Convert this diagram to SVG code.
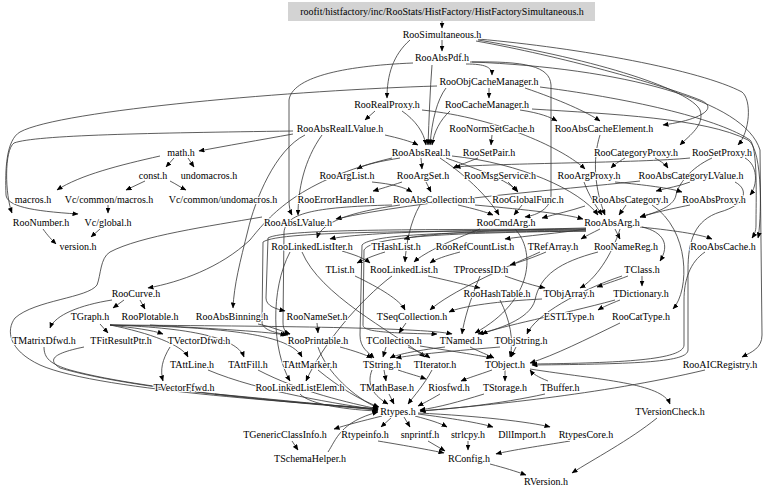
<svg xmlns="http://www.w3.org/2000/svg" width="768" height="494" viewBox="0 0 768 494">
<defs>
<marker id="a" markerWidth="6" markerHeight="5" refX="5.5" refY="2.5" orient="auto" markerUnits="userSpaceOnUse"><path d="M0,0L6,2.5L0,5z" fill="#000"/></marker>
<style>
text{font-family:"Liberation Serif","Times New Roman",serif;font-size:10px;text-anchor:middle;fill:#000;stroke:#fff;stroke-width:2.2;paint-order:stroke;stroke-linejoin:round}
#n_header text{stroke:none}
#edges path{fill:none;stroke:#333;stroke-width:0.8;marker-end:url(#a)}
</style>
</defs>
<rect width="768" height="494" fill="#fff"/>
<g id="edges">
<path d="M442,21 L442,28"/>
<path d="M442,40 L442,51"/>
<path d="M410,40 C393,55 387,75 387,98"/>
<path d="M478,39 C580,48 700,70 742,92 C752,100 750,132 738,145"/>
<path d="M476,41 C560,56 660,84 700,100 C720,108 700,120 663,125"/>
<path d="M478,40 C600,60 690,90 700,110 C705,125 690,135 680,145"/>
<path d="M472,62 C620,68 745,100 760,150 L762,335 C762,348 752,352 742,357"/>
<path d="M466,64 C485,64 492,67 492,75"/>
<path d="M432,65 C430,90 429,120 428,145"/>
<path d="M413,63 C340,66 292,78 289,100 L289,200 C289,207 290,211 292,215"/>
<path d="M470,62 C525,61 550,66 551,85 L551,195 C551,208 538,215 525,217"/>
<path d="M489,88 L489,98"/>
<path d="M525,88 C560,100 587,112 600,121"/>
<path d="M437,86 C300,90 60,110 20,132 C6,140 5,170 6,195 C7,206 30,211 78,214"/>
<path d="M446,88 C437,100 432,120 430,145"/>
<path d="M540,87 C640,100 720,120 750,140 C758,148 756,200 756,225 C756,232 754,235 752,238"/>
<path d="M520,110 C540,113 550,117 557,121"/>
<path d="M450,111 C440,120 434,132 432,145"/>
<path d="M532,109 C610,114 705,118 748,140 C764,150 761,225 758,238"/>
<path d="M492,135 L491,145"/>
<path d="M375,111 L365,120"/>
<path d="M402,111 C415,120 424,132 426,145"/>
<path d="M422,110 C500,118 565,150 585,169"/>
<path d="M293,134 C260,140 225,146 199,151"/>
<path d="M293,131 C150,133 35,135 14,143 C4,150 5,195 12,213"/>
<path d="M385,135 C398,138 410,141 418,145"/>
<path d="M322,135 C304,160 298,190 298,215"/>
<path d="M305,135 C275,150 255,200 248,230 C240,262 234,285 233,308"/>
<path d="M400,158 C382,161 366,164 357,169"/>
<path d="M600,135 C592,160 595,190 605,215"/>
<path d="M421,158 L422,169"/>
<path d="M446,158 C480,170 508,180 518,192"/>
<path d="M440,158 C470,178 490,200 499,215"/>
<path d="M452,156 C520,163 580,190 598,215"/>
<path d="M392,158 C300,180 270,215 250,240 C220,268 180,282 148,288"/>
<path d="M478,158 C468,162 460,165 453,168"/>
<path d="M625,158 C618,162 614,165 611,168"/>
<path d="M655,158 C662,162 666,165 668,168"/>
<path d="M690,158 C640,163 500,163 455,167"/>
<path d="M745,158 C758,165 758,185 750,195"/>
<path d="M712,158 C690,168 678,185 676,195 C674,208 650,214 640,217"/>
<path d="M426,182 L431,192"/>
<path d="M402,182 C390,186 380,189 373,191"/>
<path d="M372,182 C392,184 404,187 412,192"/>
<path d="M508,182 L517,191"/>
<path d="M615,182 C645,185 670,188 682,192"/>
<path d="M584,182 C589,196 596,206 602,215"/>
<path d="M690,182 C680,186 667,188 656,191"/>
<path d="M640,181 C560,190 420,200 336,219"/>
<path d="M626,205 L619,215"/>
<path d="M652,205 C690,230 690,290 673,309"/>
<path d="M690,205 C665,210 650,214 640,217"/>
<path d="M475,205 C530,210 565,214 583,219"/>
<path d="M458,205 C475,209 486,212 493,215"/>
<path d="M420,205 C410,222 406,245 405,262"/>
<path d="M400,205 C350,212 322,222 317,238"/>
<path d="M392,205 C310,207 286,214 284,232 L283,322 C283,330 286,333 290,334"/>
<path d="M522,205 L514,215"/>
<path d="M515,229 C535,250 535,300 475,333"/>
<path d="M480,229 C452,240 425,252 414,262"/>
<path d="M585,206 C570,211 556,214 542,218"/>
<path d="M586,229 C560,233 525,236 505,239"/>
<path d="M600,229 C592,233 586,236 581,239"/>
<path d="M615,229 L620,239"/>
<path d="M640,227 C680,231 702,235 712,239"/>
<path d="M586,228 C500,230 425,233 404,239"/>
<path d="M586,229 C470,230 360,232 330,239"/>
<path d="M586,229 C440,230 285,228 268,238 L266,298 C266,306 276,309 285,311"/>
<path d="M586,230 C440,232 280,230 263,242 L262,322 C262,330 276,333 288,335"/>
<path d="M586,231 C450,232 372,234 362,245 L360,335 C360,348 368,352 374,358"/>
<path d="M586,231 C450,233 372,236 364,250 L363,325 C363,331 380,333 437,334"/>
<path d="M620,229 C612,255 595,280 580,288"/>
<path d="M642,227 C664,232 670,245 660,261"/>
<path d="M598,252 C560,262 540,275 535,300 C530,320 495,330 478,334"/>
<path d="M705,252 C690,262 684,280 684,300 L684,345 C684,360 620,363 532,364"/>
<path d="M735,182 C750,190 745,205 720,212 C695,220 688,240 688,270 L688,350 C688,362 640,364 532,365"/>
<path d="M642,276 L642,286"/>
<path d="M628,276 C615,281 605,284 597,287"/>
<path d="M622,276 C580,290 535,315 527,334"/>
<path d="M615,300 C560,315 500,326 482,334"/>
<path d="M620,300 C610,304 603,307 598,310"/>
<path d="M620,323 C585,340 555,355 530,363"/>
<path d="M542,299 C500,301 462,306 449,312"/>
<path d="M540,252 C500,270 450,292 430,310"/>
<path d="M546,252 C532,258 520,262 510,265"/>
<path d="M385,252 C372,256 363,260 357,263"/>
<path d="M355,276 C380,288 400,300 405,310"/>
<path d="M342,251 C355,255 364,258 370,263"/>
<path d="M302,252 C320,295 390,330 425,357"/>
<path d="M290,252 C270,290 272,350 290,381"/>
<path d="M392,276 C360,300 322,345 306,381"/>
<path d="M428,276 C455,282 470,286 480,288"/>
<path d="M460,252 C445,256 436,259 430,263"/>
<path d="M505,276 C522,282 535,286 545,288"/>
<path d="M480,276 C470,300 464,320 462,334"/>
<path d="M500,300 C510,320 514,340 510,357"/>
<path d="M124,300 L113,308"/>
<path d="M140,300 L145,309"/>
<path d="M112,300 C80,305 55,315 50,328"/>
<path d="M100,324 L108,333"/>
<path d="M110,325 C135,328 152,330 163,334"/>
<path d="M110,325 C150,333 182,345 188,357"/>
<path d="M110,325 C200,328 238,340 244,357"/>
<path d="M110,325 C230,327 290,335 302,357"/>
<path d="M110,325 C250,326 420,327 452,334"/>
<path d="M150,325 C200,328 262,331 286,335"/>
<path d="M258,324 C272,327 282,331 290,334"/>
<path d="M317,323 L318,333"/>
<path d="M170,347 C162,360 160,370 163,381"/>
<path d="M406,323 L399,333"/>
<path d="M420,346 C458,352 482,356 492,358"/>
<path d="M386,347 L383,357"/>
<path d="M408,347 C418,351 426,355 430,358"/>
<path d="M470,347 C480,352 488,355 494,358"/>
<path d="M445,347 C412,351 396,355 390,358"/>
<path d="M516,347 L511,357"/>
<path d="M500,347 C440,352 412,355 396,358"/>
<path d="M340,347 C355,351 366,355 372,358"/>
<path d="M318,347 C326,372 355,398 378,408"/>
<path d="M208,370 C260,392 340,404 378,410"/>
<path d="M258,370 C300,392 350,403 378,409"/>
<path d="M318,370 C340,388 360,400 379,407"/>
<path d="M215,394 C280,400 340,406 378,410"/>
<path d="M300,394 C310,405 350,410 378,411"/>
<path d="M384,370 L386,381"/>
<path d="M398,370 C410,374 418,376 426,379"/>
<path d="M372,370 C366,385 374,396 388,404"/>
<path d="M432,370 C424,385 414,396 408,404"/>
<path d="M492,370 C478,375 468,378 461,381"/>
<path d="M505,370 L505,381"/>
<path d="M530,369 C600,380 662,383 670,404"/>
<path d="M389,394 L394,404"/>
<path d="M484,394 C458,402 440,407 420,410"/>
<path d="M440,394 C430,400 422,404 418,406"/>
<path d="M548,381 C538,377 533,374 530,370"/>
<path d="M545,394 C500,404 450,409 420,411"/>
<path d="M705,370 C600,395 480,406 420,411"/>
<path d="M657,418 C630,440 592,460 572,473"/>
<path d="M382,416 C362,421 346,425 334,429"/>
<path d="M392,417 L381,427"/>
<path d="M404,417 L410,427"/>
<path d="M415,416 C430,420 440,423 447,427"/>
<path d="M418,414 C450,418 480,423 493,427"/>
<path d="M418,413 C480,416 530,422 550,427"/>
<path d="M292,441 L298,450"/>
<path d="M328,452 C336,440 340,422 378,412"/>
<path d="M378,441 C408,446 430,450 444,453"/>
<path d="M428,441 L445,451"/>
<path d="M468,441 L468,450"/>
<path d="M570,441 C540,446 512,450 496,454"/>
<path d="M490,464 C505,468 515,471 526,475"/>
<path d="M174,158 L166,167"/>
<path d="M188,158 L194,167"/>
<path d="M160,156 C120,165 80,175 57,190"/>
<path d="M145,181 L126,190"/>
<path d="M170,181 C176,184 180,187 186,190"/>
<path d="M108,205 L108,213"/>
<path d="M100,229 L91,237"/>
<path d="M43,229 C48,236 52,240 56,244"/>
<path d="M262,217 C210,226 140,236 110,252 C100,258 101,275 97,285 C88,298 35,300 15,318 C6,330 8,350 40,365 C100,392 330,404 378,409"/>
<path d="M44,347 C44,358 50,364 70,370 C150,392 330,405 378,409"/>
<path d="M84,347 C60,352 44,358 60,368 C140,392 330,405 378,410"/>
</g>
<g id="n_header"><rect x="288" y="2" width="307" height="19" fill="#d3d3d3"/><text x="442" y="14.5">roofit/histfactory/inc/RooStats/HistFactory/HistFactorySimultaneous.h</text></g>
<g id="n_RooSimultaneous"><text x="442" y="37.8">RooSimultaneous.h</text></g>
<g id="n_RooAbsPdf"><text x="442" y="61.3">RooAbsPdf.h</text></g>
<g id="n_RooObjCacheManager"><text x="489" y="84.9">RooObjCacheManager.h</text></g>
<g id="n_RooRealProxy"><text x="387" y="108.4">RooRealProxy.h</text></g>
<g id="n_RooCacheManager"><text x="487" y="108.4">RooCacheManager.h</text></g>
<g id="n_RooAbsRealLValue"><text x="340" y="132">RooAbsRealLValue.h</text></g>
<g id="n_RooNormSetCache"><text x="492" y="132">RooNormSetCache.h</text></g>
<g id="n_RooAbsCacheElement"><text x="604" y="132">RooAbsCacheElement.h</text></g>
<g id="n_math"><text x="181" y="155.5">math.h</text></g>
<g id="n_RooAbsReal"><text x="421" y="155.5">RooAbsReal.h</text></g>
<g id="n_RooSetPair"><text x="489" y="155.5">RooSetPair.h</text></g>
<g id="n_RooCategoryProxy"><text x="636" y="155.5">RooCategoryProxy.h</text></g>
<g id="n_RooSetProxy"><text x="722" y="155.5">RooSetProxy.h</text></g>
<g id="n_const"><text x="153" y="179">const.h</text></g>
<g id="n_undomacros"><text x="209" y="179">undomacros.h</text></g>
<g id="n_RooArgList"><text x="347" y="179">RooArgList.h</text></g>
<g id="n_RooArgSet"><text x="423" y="179">RooArgSet.h</text></g>
<g id="n_RooMsgService"><text x="500" y="179">RooMsgService.h</text></g>
<g id="n_RooArgProxy"><text x="589" y="179">RooArgProxy.h</text></g>
<g id="n_RooAbsCategoryLValue"><text x="691" y="179">RooAbsCategoryLValue.h</text></g>
<g id="n_macros"><text x="33" y="202.6">macros.h</text></g>
<g id="n_VcCommonMacros"><text x="109" y="202.6">Vc/common/macros.h</text></g>
<g id="n_VcCommonUndomacros"><text x="223" y="202.6">Vc/common/undomacros.h</text></g>
<g id="n_RooErrorHandler"><text x="336" y="202.6">RooErrorHandler.h</text></g>
<g id="n_RooAbsCollection"><text x="434" y="202.6">RooAbsCollection.h</text></g>
<g id="n_RooGlobalFunc"><text x="528" y="202.6">RooGlobalFunc.h</text></g>
<g id="n_RooAbsCategory"><text x="630" y="202.6">RooAbsCategory.h</text></g>
<g id="n_RooAbsProxy"><text x="714" y="202.6">RooAbsProxy.h</text></g>
<g id="n_RooNumber"><text x="41" y="226.2">RooNumber.h</text></g>
<g id="n_VcGlobal"><text x="108" y="226.2">Vc/global.h</text></g>
<g id="n_RooAbsLValue"><text x="298" y="226.2">RooAbsLValue.h</text></g>
<g id="n_RooCmdArg"><text x="506" y="226.2">RooCmdArg.h</text></g>
<g id="n_RooAbsArg"><text x="612" y="226.2">RooAbsArg.h</text></g>
<g id="n_version"><text x="78" y="249.7">version.h</text></g>
<g id="n_RooLinkedListIter"><text x="312" y="249.7">RooLinkedListIter.h</text></g>
<g id="n_THashList"><text x="396" y="249.7">THashList.h</text></g>
<g id="n_RooRefCountList"><text x="475" y="249.7">RooRefCountList.h</text></g>
<g id="n_TRefArray"><text x="553" y="249.7">TRefArray.h</text></g>
<g id="n_RooNameReg"><text x="626" y="249.7">RooNameReg.h</text></g>
<g id="n_RooAbsCache"><text x="723" y="249.7">RooAbsCache.h</text></g>
<g id="n_TList"><text x="340" y="273.3">TList.h</text></g>
<g id="n_RooLinkedList"><text x="404" y="273.3">RooLinkedList.h</text></g>
<g id="n_TProcessID"><text x="481" y="273.3">TProcessID.h</text></g>
<g id="n_TClass"><text x="642" y="273.3">TClass.h</text></g>
<g id="n_RooCurve"><text x="136" y="296.8">RooCurve.h</text></g>
<g id="n_RooHashTable"><text x="497" y="296.8">RooHashTable.h</text></g>
<g id="n_TObjArray"><text x="569" y="296.8">TObjArray.h</text></g>
<g id="n_TDictionary"><text x="641" y="296.8">TDictionary.h</text></g>
<g id="n_TGraph"><text x="90" y="320.4">TGraph.h</text></g>
<g id="n_RooPlotable"><text x="150" y="320.4">RooPlotable.h</text></g>
<g id="n_RooAbsBinning"><text x="232" y="320.4">RooAbsBinning.h</text></g>
<g id="n_RooNameSet"><text x="317" y="320.4">RooNameSet.h</text></g>
<g id="n_TSeqCollection"><text x="412" y="320.4">TSeqCollection.h</text></g>
<g id="n_ESTLType"><text x="569" y="320.4">ESTLType.h</text></g>
<g id="n_RooCatType"><text x="641" y="320.4">RooCatType.h</text></g>
<g id="n_TMatrixDfwd"><text x="44" y="343.9">TMatrixDfwd.h</text></g>
<g id="n_TFitResultPtr"><text x="121" y="343.9">TFitResultPtr.h</text></g>
<g id="n_TVectorDfwd"><text x="199" y="343.9">TVectorDfwd.h</text></g>
<g id="n_RooPrintable"><text x="318" y="343.9">RooPrintable.h</text></g>
<g id="n_TCollection"><text x="394" y="343.9">TCollection.h</text></g>
<g id="n_TNamed"><text x="461" y="343.9">TNamed.h</text></g>
<g id="n_TObjString"><text x="521" y="343.9">TObjString.h</text></g>
<g id="n_TAttLine"><text x="192" y="367.5">TAttLine.h</text></g>
<g id="n_TAttFill"><text x="248" y="367.5">TAttFill.h</text></g>
<g id="n_TAttMarker"><text x="310" y="367.5">TAttMarker.h</text></g>
<g id="n_TString"><text x="382" y="367.5">TString.h</text></g>
<g id="n_TIterator"><text x="435" y="367.5">TIterator.h</text></g>
<g id="n_TObject"><text x="505" y="367.5">TObject.h</text></g>
<g id="n_RooAICRegistry"><text x="720" y="367.5">RooAICRegistry.h</text></g>
<g id="n_TVectorFfwd"><text x="184" y="391">TVectorFfwd.h</text></g>
<g id="n_RooLinkedListElem"><text x="300" y="391">RooLinkedListElem.h</text></g>
<g id="n_TMathBase"><text x="387" y="391">TMathBase.h</text></g>
<g id="n_Riosfwd"><text x="449" y="391">Riosfwd.h</text></g>
<g id="n_TStorage"><text x="505" y="391">TStorage.h</text></g>
<g id="n_TBuffer"><text x="560" y="391">TBuffer.h</text></g>
<g id="n_Rtypes"><text x="398" y="414.5">Rtypes.h</text></g>
<g id="n_TVersionCheck"><text x="670" y="414.5">TVersionCheck.h</text></g>
<g id="n_TGenericClassInfo"><text x="285" y="438.1">TGenericClassInfo.h</text></g>
<g id="n_Rtypeinfo"><text x="365" y="438.1">Rtypeinfo.h</text></g>
<g id="n_snprintf"><text x="420" y="438.1">snprintf.h</text></g>
<g id="n_strlcpy"><text x="468" y="438.1">strlcpy.h</text></g>
<g id="n_DllImport"><text x="522" y="438.1">DllImport.h</text></g>
<g id="n_RtypesCore"><text x="586" y="438.1">RtypesCore.h</text></g>
<g id="n_TSchemaHelper"><text x="310" y="461.7">TSchemaHelper.h</text></g>
<g id="n_RConfig"><text x="469" y="461.7">RConfig.h</text></g>
<g id="n_RVersion"><text x="546" y="485.2">RVersion.h</text></g>
</svg>
